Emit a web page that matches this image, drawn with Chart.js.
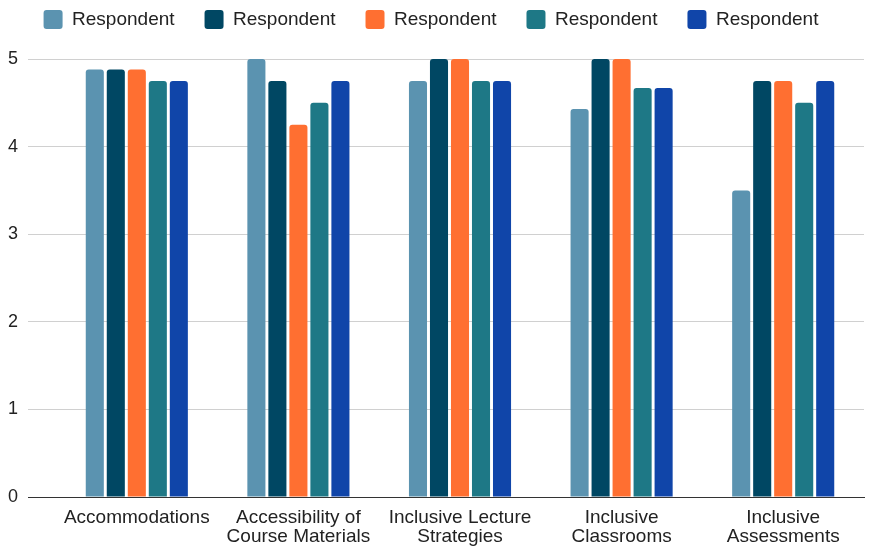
<!DOCTYPE html>
<html>
<head>
<meta charset="utf-8">
<script src="https://cdn.jsdelivr.net/npm/chart.js@4/dist/chart.umd.min.js"></script>
<style>
  html, body { margin: 0; padding: 0; background: #fff; }
  #wrap { width: 877px; height: 546px; position: relative; }
</style>
</head>
<body>
<div id="wrap"><canvas id="c"></canvas></div>
<script>
// Survey categories (multi-line labels)
const categories = [
  "Accommodations",
  ["Accessibility of", "Course Materials"],
  ["Inclusive Lecture", "Strategies"],
  ["Inclusive", "Classrooms"],
  ["Inclusive", "Assessments"]
];

// Mean ratings per respondent
const respondent1 = [4.88, 5.00, 4.75, 4.43, 3.50];
const respondent2 = [4.88, 4.75, 5.00, 5.00, 4.75];
const respondent3 = [4.88, 4.25, 5.00, 5.00, 4.75];
const respondent4 = [4.75, 4.50, 4.75, 4.67, 4.50];
const respondent5 = [4.75, 4.75, 4.75, 4.67, 4.75];

const seriesNames = ["Respondent", "Respondent", "Respondent", "Respondent", "Respondent"];
const seriesColors = ["#5b93b0", "#004763", "#ff6f31", "#1e7886", "#1045a9"];
const yTicks = [0, 1, 2, 3, 4, 5];

const seriesData = [respondent1, respondent2, respondent3, respondent4, respondent5];
const FONT = "Liberation Sans, Arial, sans-serif";

// Extra gap between the legend row and the plot area
const legendGap = {
  id: "legendGap",
  beforeLayout(chart) {
    const lg = chart.legend;
    if (lg && !lg._gapPatched) {
      const fit = lg.fit;
      lg.fit = function () {
        fit.call(this);
        this.height += 20;
      };
      lg._gapPatched = true;
    }
  }
};

new Chart(document.getElementById("c"), {
  type: "bar",
  data: {
    labels: categories,
    datasets: seriesData.map((d, i) => ({
      label: seriesNames[i],
      data: d,
      backgroundColor: seriesColors[i],
      borderRadius: { topLeft: 3, topRight: 3 },
      borderSkipped: "bottom",
      categoryPercentage: 0.65,
      barPercentage: 0.86
    }))
  },
  plugins: [legendGap],
  options: {
    responsive: true,
    maintainAspectRatio: false,
    animation: false,
    layout: { padding: { left: -2, right: 13, top: -20, bottom: -3 } },
    plugins: {
      legend: {
        position: "top",
        labels: {
          font: { family: FONT, size: 19 },
          color: "#222",
          boxWidth: 19,
          boxHeight: 19,
          useBorderRadius: true,
          borderRadius: 3,
          padding: 30
        }
      },
      tooltip: { enabled: false }
    },
    scales: {
      x: {
        grid: { display: false },
        border: { color: "#333", width: 1 },
        ticks: {
          font: { family: FONT, size: 19, lineHeight: 1.0 },
          color: "#222",
          maxRotation: 0,
          autoSkip: false,
          padding: 3
        }
      },
      y: {
        min: 0,
        max: 5,
        afterBuildTicks: (axis) => { axis.ticks = yTicks.map(v => ({ value: v })); },
        grid: {
          color: (ctx) => ctx.tick && ctx.tick.value === 0 ? "#333" : "#d0d0d0",
          lineWidth: 1,
          drawTicks: true,
          tickLength: 28
        },
        border: { display: false },
        ticks: {
          font: { family: FONT, size: 18 },
          color: "#222",
          padding: 10
        }
      }
    }
  }
});
</script>
</body>
</html>
